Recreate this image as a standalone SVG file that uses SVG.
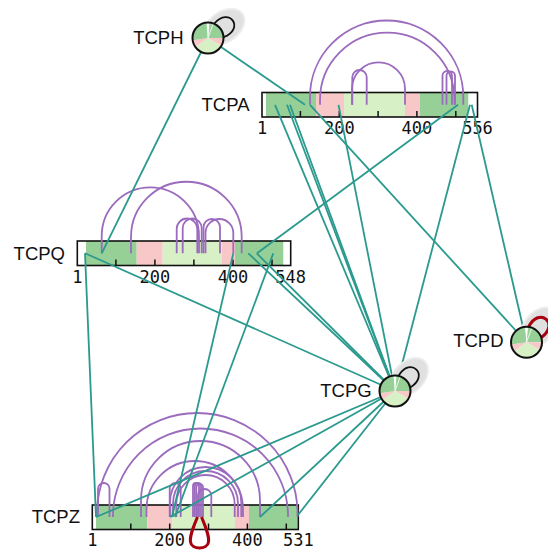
<svg xmlns="http://www.w3.org/2000/svg" xmlns:xlink="http://www.w3.org/1999/xlink" width="548" height="551" viewBox="0 0 548 551">
<style>
.lbl{font-family:"Liberation Sans",Arial,sans-serif;font-size:18.5px;fill:#111;text-anchor:end}
.tkl{font-family:"DejaVu Sans Mono","Liberation Mono",monospace;font-size:17px;fill:#111;text-anchor:middle}
.bar{fill:none;stroke:#111;stroke-width:1.6}
.bg{fill:#fff}
.tk{stroke:#111;stroke-width:1.5}
.g{fill:#96d096}
.p{fill:#f8c8c8}
.lg{fill:#d8f0c6}
.self{fill:none;stroke:#9b6bbd;stroke-width:1.8}
.xl{fill:none;stroke:#2b9a8e;stroke-width:1.8}
.loopk{fill:none;stroke:#111;stroke-width:1.8}
.loopr{fill:none;stroke:#a8000f;stroke-width:3}
.ring{fill:none;stroke:#111;stroke-width:2}
</style>
<defs>
<path id="loop" d="M-8.21,-13.14 C-14,-36 14,-36 8.21,-13.14"/>
<g id="haloE">
<ellipse cx="0" cy="-20" rx="16" ry="23" fill="#ececec"/>
<ellipse cx="0" cy="-20" rx="14" ry="21" fill="#e0e0e0"/>
</g>
<g id="pie">
<circle r="15.5" fill="#fff"/>
<path class="g" d="M0,0 L1.62,-15.42 A15.5,15.5 0 0 1 15.5,0 Z"/>
<path class="p" d="M0,0 L15.5,0 A15.5,15.5 0 0 1 13.42,7.75 Z"/>
<path class="lg" d="M0,0 L13.42,7.75 A15.5,15.5 0 0 1 -12.7,8.89 Z"/>
<path class="p" d="M0,0 L-12.7,8.89 A15.5,15.5 0 0 1 -15.35,2.16 Z"/>
<path class="g" d="M0,0 L-15.35,2.16 A15.5,15.5 0 0 1 -1.62,-15.42 Z"/>
<path d="M0,0 L0,-15.5 M0,0 L5.3,-14.57" stroke="#fff" stroke-width="0.8"/>
<circle class="ring" r="15.5"/>
</g>
</defs>
<rect width="548" height="551" fill="#fff"/>

<g id="TCPA">
<rect class="bg" x="262" y="92.5" width="215.5" height="24.5"/>
<rect class="g" x="266" y="92.5" width="50" height="24.5"/>
<rect class="p" x="316" y="92.5" width="28" height="24.5"/>
<rect class="lg" x="344" y="92.5" width="61" height="24.5"/>
<rect class="p" x="405" y="92.5" width="15" height="24.5"/>
<rect class="g" x="420" y="92.5" width="48.3" height="24.5"/>
<path class="tk" d="M300.4,111V117M339.3,111V117M378.1,111V117M416.9,111V117M455.8,111V117"/>
<rect class="bar" x="262" y="92.5" width="215.5" height="24.5"/>
<text class="lbl" x="249.5" y="111">TCPA</text>
<text class="tkl" x="262" y="134">1</text>
<text class="tkl" x="339.3" y="134">200</text>
<text class="tkl" x="416.9" y="134">400</text>
<text class="tkl" x="477.5" y="134">556</text>
</g>

<g id="TCPQ">
<rect class="bg" x="77.3" y="241" width="213.4" height="24.5"/>
<rect class="g" x="86" y="241" width="50.7" height="24.5"/>
<rect class="p" x="136.7" y="241" width="26" height="24.5"/>
<rect class="lg" x="162.7" y="241" width="59" height="24.5"/>
<rect class="p" x="221.7" y="241" width="13.3" height="24.5"/>
<rect class="g" x="235" y="241" width="48.3" height="24.5"/>
<path class="tk" d="M115.9,259.5V265.5M154.9,259.5V265.5M193.9,259.5V265.5M233,259.5V265.5M272,259.5V265.5"/>
<rect class="bar" x="77.3" y="241" width="213.4" height="24.5"/>
<text class="lbl" x="65" y="260">TCPQ</text>
<text class="tkl" x="77.3" y="282.5">1</text>
<text class="tkl" x="154.9" y="282.5">200</text>
<text class="tkl" x="233" y="282.5">400</text>
<text class="tkl" x="290.7" y="282.5">548</text>
</g>

<g id="TCPZ">
<rect class="bg" x="92.3" y="505" width="206" height="24.5"/>
<rect class="g" x="96" y="505" width="51.3" height="24.5"/>
<rect class="p" x="147.3" y="505" width="25" height="24.5"/>
<rect class="lg" x="172.3" y="505" width="62.7" height="24.5"/>
<rect class="p" x="235" y="505" width="14" height="24.5"/>
<rect class="g" x="249" y="505" width="48.3" height="24.5"/>
<path class="tk" d="M130.8,523.5V529.5M169.7,523.5V529.5M208.5,523.5V529.5M247.4,523.5V529.5M286.3,523.5V529.5"/>
<rect class="bar" x="92.3" y="505" width="206" height="24.5"/>
<text class="lbl" x="80" y="522.7">TCPZ</text>
<text class="tkl" x="92.3" y="546">1</text>
<text class="tkl" x="169.7" y="546">200</text>
<text class="tkl" x="247.4" y="546">400</text>
<text class="tkl" x="298.3" y="546">531</text>
</g>

<g id="connectors">
<g id="self-links">
<path class="self" d="M310,104.75 V97.15 A76.65,76.65 0 0 1 463.3,97.15 V104.75"/>
<path class="self" d="M320,104.75 V99.95 A67.25,67.25 0 0 1 454.5,99.95 V104.75"/>
<path class="self" d="M352,104.75 V88.8 A26.5,26.5 0 0 1 405,88.8 V104.75"/>
<path class="self" d="M352.3,104.75 V77.2 A7.2,7.2 0 0 1 366.7,77.2 V104.75"/>
<path class="self" d="M442.5,104.75 V75.75 A4.75,4.75 0 0 1 452,75.75 V104.75"/>
<path class="self" d="M446.5,104.75 V75.75 A4.25,4.25 0 0 1 455,75.75 V104.75"/>

<path class="self" d="M101.7,253.3 V235.95 A48.65,48.65 0 0 1 199,235.95 V253.3"/>
<path class="self" d="M131,253.3 V237.05 A55.35,55.35 0 0 1 241.7,237.05 V253.3"/>
<path class="self" d="M176.7,253.3 V228.8 A10.3,10.3 0 0 1 197.3,228.8 V253.3"/>
<path class="self" d="M182.7,253.3 V228 A9.5,9.5 0 0 1 201.7,228 V253.3"/>
<path class="self" d="M203.5,253.3 V227.25 A8.25,8.25 0 0 1 220,227.25 V253.3"/>
<path class="self" d="M205.5,253.3 V232.9 A13.9,13.9 0 0 1 233.3,232.9 V253.3"/>

<path class="self" d="M97,517 V513.25 A100.25,100.25 0 0 1 297.5,513.25 V517"/>
<path class="self" d="M98,517 V488.75 A5.75,5.75 0 0 1 109.5,488.75 V517"/>
<path class="self" d="M113,517 V516 A87.5,87.5 0 0 1 288,516 V517"/>
<path class="self" d="M141,517 V500.5 A59.5,59.5 0 0 1 260,500.5 V517"/>
<path class="self" d="M146.5,517 V509.25 A48.25,48.25 0 0 1 243,509.25 V517"/>
<path class="self" d="M170,517 V502.65 A35.65,35.65 0 0 1 241.3,502.65 V517"/>
<path class="self" d="M173,517 V503.5 A32.5,32.5 0 0 1 238,503.5 V517"/>
<path class="self" d="M176.3,517 V504.2 A29.2,29.2 0 0 1 234.7,504.2 V517"/>
<path class="self" d="M169.7,517 V488.5 A5.5,5.5 0 0 1 180.7,488.5 V517"/>
<path class="self" d="M193,517 V486 A3,3 0 0 1 199,486 V517"/>
<path class="self" d="M194.7,517 V486.15 A3.15,3.15 0 0 1 201,486.15 V517"/>
<path class="self" d="M196.3,517 V487.35 A3.35,3.35 0 0 1 203,487.35 V517"/>
<path class="self" d="M198,517 V495.65 A6.65,6.65 0 0 1 211.3,495.65 V517"/>
<path class="loopr" d="M197.5,517 C193,528 189.5,536 190.5,542 C191.5,550 207.5,550 208.5,542 C209.5,536 206,528 201.5,517"/>
</g>
<g id="cross-links">
<path class="xl" d="M208,38 L101.7,253.3"/>
<path class="xl" d="M208,38 L305,104.8"/>
<path class="xl" d="M275,104.8 L395,391"/>
<path class="xl" d="M287,104.8 L395,391"/>
<path class="xl" d="M290,104.8 L395,391"/>
<path class="xl" d="M338.5,104.8 L395,391"/>
<path class="xl" d="M310,104.8 L526.5,342.3"/>
<path class="xl" d="M458,104.8 L257,253.3"/>
<path class="xl" d="M470,104.8 L395,391"/>
<path class="xl" d="M471.7,104.8 L526.5,342.3"/>
<path class="xl" d="M85,253.3 L96,517"/>
<path class="xl" d="M85,253.3 L395,391"/>
<path class="xl" d="M233.3,253.3 L172,517"/>
<path class="xl" d="M273.3,253.3 L175,517"/>
<path class="xl" d="M248.3,253.3 L395,391"/>
<path class="xl" d="M256.7,253.3 L395,391"/>
<path class="xl" d="M96,517 L395,391"/>
<path class="xl" d="M170,517 L395,391"/>
<path class="xl" d="M260,517 L395,391"/>
<path class="xl" d="M298,515 L395,391"/>
</g>
</g>

<g id="TCPH">
<use href="#haloE" transform="translate(208,38) rotate(55)"/>
<use href="#loop" class="loopk" transform="translate(208,38) rotate(55)"/>
<use href="#pie" transform="translate(208,38)"/>
<text class="lbl" x="183.5" y="43.7">TCPH</text>
</g>

<g id="TCPD">
<use href="#haloE" transform="translate(526.5,342.3) rotate(40)"/>
<use href="#loop" class="loopr" transform="translate(526.5,342.3) rotate(40)"/>
<use href="#pie" transform="translate(526.5,342.3)"/>
<text class="lbl" x="503.5" y="346.7">TCPD</text>
</g>

<g id="TCPG">
<use href="#haloE" transform="translate(395,391) rotate(45)"/>
<use href="#loop" class="loopk" transform="translate(395,391) rotate(45)"/>
<use href="#pie" transform="translate(395,391)"/>
<text class="lbl" x="371.7" y="396.7">TCPG</text>
</g>
</svg>
